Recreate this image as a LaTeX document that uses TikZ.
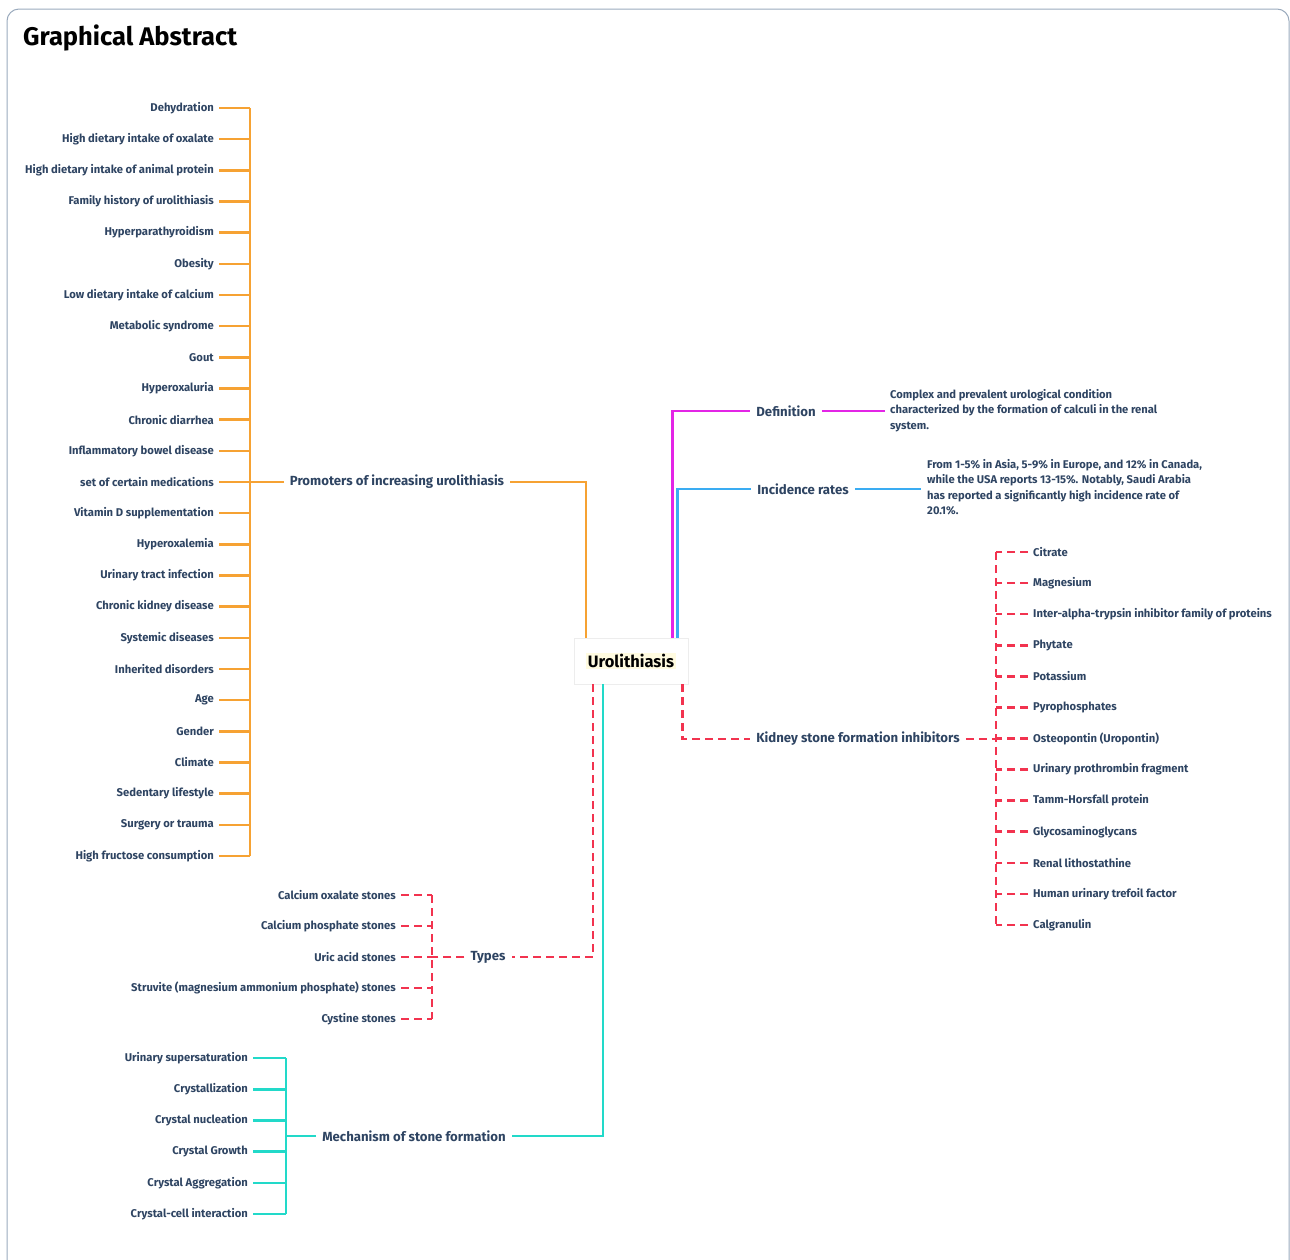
\documentclass[tikz,border=0pt]{standalone}
\usepackage{fontspec}
\setmainfont{Fira Sans}
\usetikzlibrary{calc}
\definecolor{txt}{HTML}{2E4462}
\definecolor{orc}{HTML}{F6A233}
\definecolor{mgc}{HTML}{E325E6}
\definecolor{blc}{HTML}{3AACF2}
\definecolor{rdc}{HTML}{F2334F}
\definecolor{tlc}{HTML}{22D9C9}
\definecolor{bordc}{HTML}{9AAABD}
\definecolor{hlc}{HTML}{FFFBE0}
\tikzset{
  item/.style={font=\fontsize{11.25}{12}\selectfont\bfseries, text=txt, inner xsep=5pt, inner ysep=2pt},
  branch/.style={font=\fontsize{13.2}{15}\selectfont\bfseries, text=txt, inner xsep=6pt, inner ysep=2pt},
  para/.style={font=\fontsize{11.2}{15.5}\selectfont\bfseries, text=txt, align=left, inner sep=0pt, anchor=north west},
  orl/.style={draw=orc, line width=2.6pt},
  mgl/.style={draw=mgc, line width=2.6pt},
  bll/.style={draw=blc, line width=2.6pt},
  rdl/.style={draw=rdc, line width=2.6pt, dash pattern=on 8pt off 5pt},
  tll/.style={draw=tlc, line width=2.6pt},
}
\begin{document}
\begin{tikzpicture}[x=1pt,y=-1pt]
\useasboundingbox (0,0) rectangle (1290,1259);
\draw[bordc, line width=1pt, rounded corners=12pt] (7,9) rectangle (1289,1280);
\node[anchor=west, inner sep=0pt, font=\fontsize{25.5}{28}\selectfont\bfseries] (title) at (23,38) {Graphical Abstract};

% root
\node[draw=black!7, fill=white, minimum width=114pt, minimum height=46pt, inner sep=0pt,
      font=\fontsize{16.5}{18}\selectfont\bfseries] (root) at (631,661)
      {\setlength{\fboxsep}{1.5pt}\colorbox{hlc}{Urolithiasis}};

% ---------- Promoters ----------
\node[branch] (prom) at (397,482) {Promoters of increasing urolithiasis};
\coordinate (ptrunk) at (250,482);
\draw[orl] ([xshift=12pt]root.north west) |- (prom.east);
\draw[orl] (prom.west) -- (ptrunk);
\foreach \t [count=\i] in {Dehydration, High dietary intake of oxalate, High dietary intake of animal protein,
  Family history of urolithiasis, Hyperparathyroidism, Obesity, Low dietary intake of calcium,
  Metabolic syndrome, Gout, Hyperoxaluria, Chronic diarrhea, Inflammatory bowel disease,
  set of certain medications, Vitamin D supplementation, Hyperoxalemia, Urinary tract infection,
  Chronic kidney disease, Systemic diseases, Inherited disorders, Age, Gender, Climate,
  Sedentary lifestyle, Surgery or trauma, High fructose consumption}{
  \node[item, anchor=east] (p\i) at (219,{108+(\i-1)*31.1667}) {\t};
  \draw[orl] (p\i.east) -- (p\i.east -| ptrunk);
}
\draw[orl] (p1.east -| ptrunk) -- (p25.east -| ptrunk);

% ---------- Definition ----------
\node[branch] (def) at (786,411) {Definition};
\draw[mgl] ([xshift=-16pt]root.north east) |- (def.west);
\node[para] (deftxt) at (890,389) {Complex and prevalent urological condition\\characterized by the formation of calculi in the renal\\system.};
\draw[mgl] (def.east) -- ([xshift=-5pt]deftxt.west |- def.east);

% ---------- Incidence ----------
\node[branch] (inc) at (803,489) {Incidence rates};
\draw[bll] ([xshift=-11pt]root.north east) |- (inc.west);
\node[para] (inctxt) at (927,459) {From 1-5\% in Asia, 5-9\% in Europe, and 12\% in Canada,\\while the USA reports 13-15\%. Notably, Saudi Arabia\\has reported a significantly high incidence rate of\\20.1\%.};
\draw[bll] (inc.east) -- ([xshift=-6pt]inctxt.west |- inc.east);

% ---------- Inhibitors ----------
\node[branch] (inh) at (858,739) {Kidney stone formation inhibitors};
\coordinate (itrunk) at (996,739);
\draw[rdl] ([xshift=-6pt]root.south east) |- (inh.west);
\draw[rdl] (inh.east) -- (itrunk);
\foreach \t [count=\i] in {Citrate, Magnesium, Inter-alpha-trypsin inhibitor family of proteins,
  Phytate, Potassium, Pyrophosphates, {Osteopontin (Uropontin)}, Urinary prothrombin fragment,
  Tamm-Horsfall protein, Glycosaminoglycans, Renal lithostathine, Human urinary trefoil factor, Calgranulin}{
  \node[item, anchor=west] (h\i) at (1028,{552+(\i-1)*31.0833}) {\t};
  \draw[rdl] (h\i.west) -- (h\i.west -| itrunk);
}
\draw[rdl] (h1.west -| itrunk) -- (h13.west -| itrunk);

% ---------- Types ----------
\node[branch] (typ) at (488,957) {Types};
\coordinate (ttrunk) at (432,957);
\draw[rdl] ([xshift=19pt]root.south west) |- (typ.east);
\draw[rdl] (typ.west) -- (ttrunk);
\foreach \t [count=\i] in {Calcium oxalate stones, Calcium phosphate stones, Uric acid stones,
  {Struvite (magnesium ammonium phosphate) stones}, Cystine stones}{
  \node[item, anchor=east] (t\i) at (401,{895+(\i-1)*31}) {\t};
  \draw[rdl] (t\i.east) -- (t\i.east -| ttrunk);
}
\draw[rdl] (t1.east -| ttrunk) -- (t5.east -| ttrunk);

% ---------- Mechanism ----------
\node[branch] (mec) at (414,1136) {Mechanism of stone formation};
\coordinate (mtrunk) at (286,1136);
\draw[tll] ([xshift=29pt]root.south west) |- (mec.east);
\draw[tll] (mec.west) -- (mtrunk);
\foreach \t [count=\i] in {Urinary supersaturation, Crystallization, Crystal nucleation,
  Crystal Growth, Crystal Aggregation, Crystal-cell interaction}{
  \node[item, anchor=east] (m\i) at (253,{1058+(\i-1)*31.2}) {\t};
  \draw[tll] (m\i.east) -- (m\i.east -| mtrunk);
}
\draw[tll] (m1.east -| mtrunk) -- (m6.east -| mtrunk);
\end{tikzpicture}
\end{document}
